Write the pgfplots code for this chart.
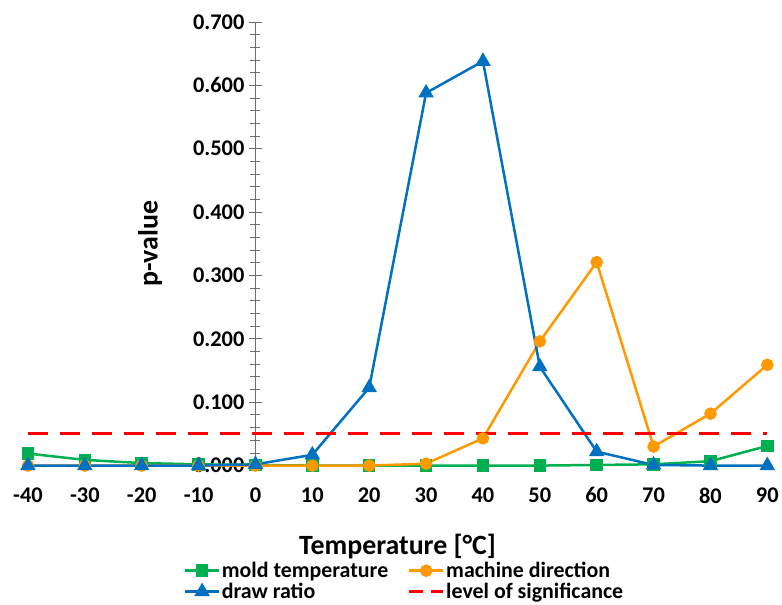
\documentclass[border=0pt]{standalone}
\usepackage{pgfplots}
\pgfplotsset{compat=1.18}
\usepackage{fontspec}
\setmainfont{Carlito}
\pgfplotsset{sigleg/.style={legend image code/.code={%
  \draw[##1, dash pattern=on 14bp off 8bp] (0bp,0bp) -- (34bp,0bp);}}}
\begin{document}
\begin{tikzpicture}
\definecolor{mgreen}{RGB}{0,176,80}
\definecolor{morange}{RGB}{255,153,0}
\definecolor{mblue}{RGB}{0,112,192}
\definecolor{mred}{RGB}{255,0,0}
\definecolor{axgray}{RGB}{110,110,110}
\begin{axis}[
  scale only axis, width=740bp, height=444bp,
  xmin=-40, xmax=90, ymin=0, ymax=0.7,
  axis lines=middle,
  axis line style={-, draw=axgray, line width=1bp},
  x axis line style={draw=none},
  hide obscured x ticks=false, hide obscured y ticks=false,
  clip=false,
  xtick={-40,-30,-20,-10,0,10,20,30,40,50,60,70,80,90},
  ytick={0,0.1,0.2,0.3,0.4,0.5,0.6,0.7},
  minor y tick num=4,
  tick align=center,
  major tick length=13bp, minor tick length=10bp,
  xtick style={draw=none},
  ytick style={draw=axgray, line width=0.8bp},
  /pgf/number format/assume math mode=true,
  yticklabel style={font=\fontsize{22.5}{26}\selectfont\bfseries, xshift=-1bp,
    /pgf/number format/.cd, fixed, fixed zerofill, precision=3},
  xticklabel style={font=\fontsize{22.5}{26}\selectfont\bfseries, yshift=-12bp},
  xlabel={Temperature [°C]},
  ylabel={p-value},
  xlabel style={at={(axis description cs:0.5,-0.182)}, anchor=center,
    font=\fontsize{28}{32}\selectfont\bfseries},
  ylabel style={at={(axis description cs:0.165,0.5)}, anchor=center, rotate=90,
    font=\fontsize{28}{32}\selectfont\bfseries},
  legend columns=2,
  legend cell align=left,
  legend style={at={(axis description cs:0.509,-0.214)}, anchor=north, draw=none,
    font=\fontsize{22}{24}\selectfont\bfseries, row sep=1bp, inner sep=0pt,
    nodes={inner sep=1.5bp},
    /tikz/every even column/.append style={column sep=18bp}},
  legend image code/.code={%
    \draw[mark repeat=2,mark phase=2,#1] plot coordinates {(0bp,0bp) (17bp,0bp) (34bp,0bp)};},
]
\addplot[mgreen, line width=2.5bp, mark=square*, mark size=5bp] coordinates {
(-40,0.019) (-30,0.009) (-20,0.004) (-10,0.002) (0,0.001) (10,0) (20,0) (30,0)
(40,0) (50,0) (60,0.001) (70,0.002) (80,0.007) (90,0.031)};
\addlegendentry{mold temperature}
\addplot[morange, line width=2.5bp, mark=*, mark size=5bp] coordinates {
(-40,0) (-30,0) (-20,0) (-10,0) (0,0) (10,0) (20,0) (30,0.003)
(40,0.043) (50,0.196) (60,0.321) (70,0.030) (80,0.082) (90,0.159)};
\addlegendentry{machine direction}
\addplot[mblue, line width=2.5bp, mark=triangle*, mark size=6.5bp] coordinates {
(-40,0) (-30,0) (-20,0) (-10,0) (0,0.002) (10,0.017) (20,0.123) (30,0.588)
(40,0.638) (50,0.156) (60,0.022) (70,0.001) (80,0) (90,0)};
\addlegendentry{draw ratio}
\addplot[mred, line width=3bp, dash pattern=on 20bp off 12bp, sigleg]
  coordinates {(-40,0.05) (90,0.05)};
\addlegendentry{level of significance}
\path (axis description cs:-0.0378,-0.313) rectangle (axis description cs:1.0189,1.0495);
\end{axis}
\end{tikzpicture}
\end{document}
